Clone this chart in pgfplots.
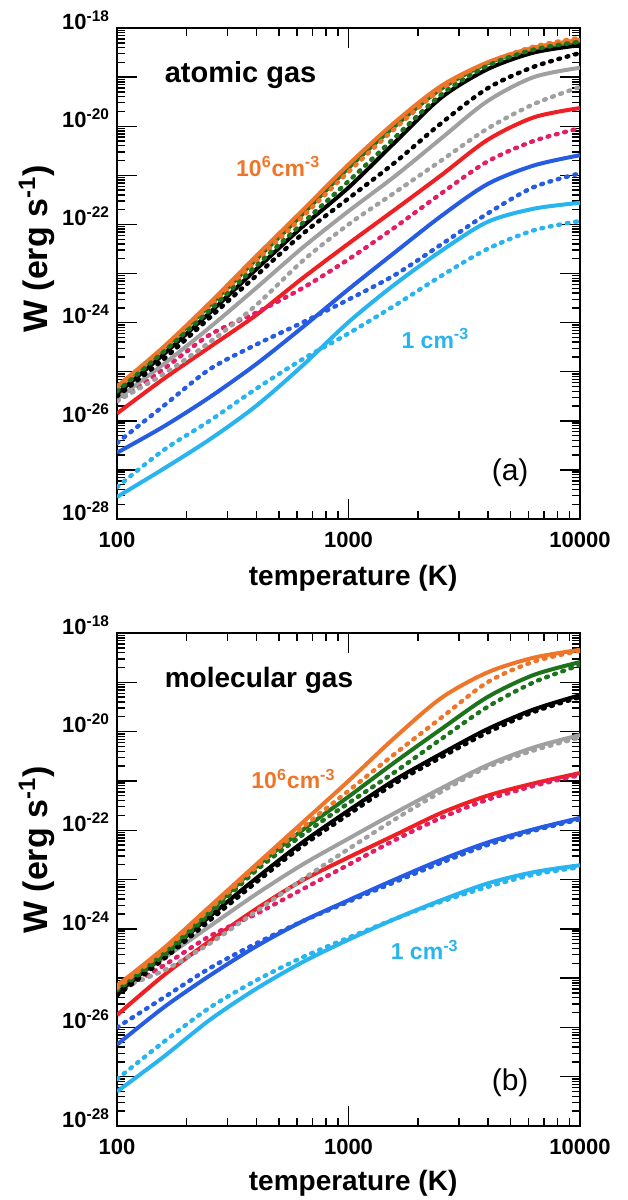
\documentclass[border=0pt]{standalone}
\usepackage{fontspec}
\setmainfont{Liberation Sans}
\usepackage{pgfplots}
\usepackage{pgfplotstable}
\pgfplotsset{compat=1.18}

\definecolor{corange}{RGB}{238,118,42}
\definecolor{cgreen}{RGB}{28,115,28}
\definecolor{cgray}{RGB}{160,160,160}
\definecolor{cred}{RGB}{238,32,36}
\definecolor{cpink}{RGB}{228,30,100}
\definecolor{cblue}{RGB}{38,92,226}
\definecolor{ccyan}{RGB}{40,180,238}

% log10 of W; columns: o=10^6, g=10^5, k=10^4, a=10^3, r=10^2, b=10, c=1 cm^-3; s=solid, d=dotted
\pgfplotstableread{
T     os     od     gs     gd     ks     kd     as     ad     rs     rd     bs     bd     cs     cd
100   -25.30 -25.35 -25.32 -25.40 -25.45 -25.50 -25.55 -25.60 -25.85 -25.60 -26.65 -26.45 -27.55 -27.35
158.5 -24.50 -24.55 -24.53 -24.60 -24.65 -24.75 -24.85 -25.05 -25.15 -24.95 -26.12 -25.70 -26.98 -26.60
251.2 -23.60 -23.68 -23.65 -23.75 -23.80 -23.90 -24.10 -24.40 -24.50 -24.25 -25.52 -24.95 -26.38 -26.00
398.1 -22.65 -22.75 -22.72 -22.85 -22.92 -23.05 -23.30 -23.65 -23.85 -23.80 -24.85 -24.45 -25.70 -25.35
631   -21.72 -21.85 -21.80 -21.98 -22.05 -22.20 -22.48 -22.75 -23.10 -23.30 -24.10 -24.00 -24.88 -24.75
1000  -20.78 -20.93 -20.85 -21.12 -21.25 -21.47 -21.73 -22.00 -22.39 -22.71 -23.32 -23.53 -23.99 -24.22
1585  -19.92 -20.05 -20.00 -20.23 -20.33 -20.74 -21.02 -21.35 -21.70 -22.06 -22.57 -23.03 -23.22 -23.65
2512  -19.18 -19.25 -19.24 -19.36 -19.42 -19.94 -20.25 -20.70 -21.00 -21.37 -21.83 -22.41 -22.54 -23.05
3981  -18.70 -18.72 -18.72 -18.77 -18.84 -19.23 -19.49 -20.05 -20.28 -20.72 -21.18 -21.78 -21.95 -22.50
6310  -18.40 -18.38 -18.42 -18.44 -18.50 -18.79 -19.00 -19.55 -19.82 -20.30 -20.80 -21.24 -21.68 -22.12
10000 -18.24 -18.20 -18.27 -18.28 -18.35 -18.51 -18.81 -19.20 -19.63 -20.04 -20.59 -20.96 -21.56 -21.93
}\tabA

\pgfplotstableread{
T     os     od     gs     gd     ks     kd     as     ad     rs     rd     bs     bd     cs     cd
100   -25.15 -25.20 -25.20 -25.25 -25.30 -25.35 -25.20 -25.22 -25.75 -25.30 -26.35 -26.00 -27.30 -27.05
158.5 -24.40 -24.45 -24.50 -24.55 -24.55 -24.62 -24.60 -24.85 -24.95 -24.75 -25.60 -25.40 -26.60 -26.30
251.2 -23.55 -23.60 -23.65 -23.70 -23.75 -23.83 -23.95 -24.30 -24.25 -24.15 -24.95 -24.80 -25.85 -25.60
398.1 -22.70 -22.75 -22.75 -22.82 -22.98 -23.06 -23.30 -23.65 -23.60 -23.70 -24.36 -24.30 -25.22 -25.05
631   -21.85 -21.95 -22.00 -22.10 -22.25 -22.32 -22.70 -23.00 -23.02 -23.20 -23.85 -23.85 -24.68 -24.58
1000  -21.00 -21.20 -21.32 -21.45 -21.60 -21.68 -22.17 -22.38 -22.55 -22.70 -23.42 -23.45 -24.22 -24.18
1585  -20.12 -20.45 -20.62 -20.82 -20.98 -21.05 -21.65 -21.78 -22.10 -22.20 -23.00 -23.05 -23.80 -23.80
2512  -19.32 -19.72 -19.95 -20.15 -20.45 -20.52 -21.15 -21.22 -21.65 -21.75 -22.60 -22.66 -23.42 -23.45
3981  -18.80 -19.00 -19.30 -19.50 -19.95 -20.02 -20.68 -20.72 -21.30 -21.38 -22.25 -22.30 -23.08 -23.15
6310  -18.50 -18.58 -18.85 -19.00 -19.55 -19.60 -20.32 -20.38 -21.05 -21.10 -21.98 -22.01 -22.85 -22.90
10000 -18.34 -18.36 -18.59 -18.65 -19.26 -19.30 -20.07 -20.12 -20.84 -20.88 -21.75 -21.78 -22.71 -22.75
}\tabB

\tikzset{
  mysl/.style={line width=2pt, smooth, tension=0.5},
  mydl/.style={line width=2.2pt, line cap=round, dash pattern=on 0.9pt off 3.4pt, smooth, tension=0.5},
}

\begin{document}
\begin{tikzpicture}
\useasboundingbox (0,0) rectangle (313.5pt,-600pt);

% (a) atomic gas
\begin{axis}[
    at={(58.5pt,-14pt)}, anchor=north west,
    scale only axis, width=231.5pt, height=245.5pt,
    xmode=log, ymode=log,
    xmin=100, xmax=10000, ymin=1e-28, ymax=1e-18,
    xtick={100,1000,10000}, xticklabels={100,1000,10000},
    minor xtick={200,300,400,500,600,700,800,900,2000,3000,4000,5000,6000,7000,8000,9000},
    ytick={1e-28,1e-27,1e-26,1e-25,1e-24,1e-23,1e-22,1e-21,1e-20,1e-19,1e-18},
    yticklabels={10\textsuperscript{-28},{},10\textsuperscript{-26},{},10\textsuperscript{-24},{},
                 10\textsuperscript{-22},{},10\textsuperscript{-20},{},10\textsuperscript{-18}},
    minor ytick={2e-28,3e-28,4e-28,5e-28,6e-28,7e-28,8e-28,9e-28,
                 2e-27,3e-27,4e-27,5e-27,6e-27,7e-27,8e-27,9e-27,
                 2e-26,3e-26,4e-26,5e-26,6e-26,7e-26,8e-26,9e-26,
                 2e-25,3e-25,4e-25,5e-25,6e-25,7e-25,8e-25,9e-25,
                 2e-24,3e-24,4e-24,5e-24,6e-24,7e-24,8e-24,9e-24,
                 2e-23,3e-23,4e-23,5e-23,6e-23,7e-23,8e-23,9e-23,
                 2e-22,3e-22,4e-22,5e-22,6e-22,7e-22,8e-22,9e-22,
                 2e-21,3e-21,4e-21,5e-21,6e-21,7e-21,8e-21,9e-21,
                 2e-20,3e-20,4e-20,5e-20,6e-20,7e-20,8e-20,9e-20,
                 2e-19,3e-19,4e-19,5e-19,6e-19,7e-19,8e-19,9e-19},
    tick pos=both, tick align=inside,
    major tick length=10pt, minor tick length=4pt,
    tick style={black, line width=0.7pt},
    axis line style={line width=0.9pt},
    ticklabel style={font=\bfseries\fontsize{11}{13}\selectfont},
    yticklabel style={yshift=4pt},
    xticklabel style={yshift=-3pt},
    xlabel={temperature (K)},
    ylabel={W (erg s\textsuperscript{-1})},
    xlabel style={font=\bfseries\fontsize{14}{16}\selectfont, at={(axis description cs:0.51,-0.12)}, anchor=center},
    ylabel style={font=\bfseries\fontsize{17}{19}\selectfont, at={(axis description cs:-0.173,0.55)}, anchor=center},
]
\addplot[mysl, ccyan] table[x=T, y expr=10^(\thisrow{cs})] {\tabA};
\addplot[mydl, ccyan] table[x=T, y expr=10^(\thisrow{cd})] {\tabA};
\addplot[mysl, cblue] table[x=T, y expr=10^(\thisrow{bs})] {\tabA};
\addplot[mydl, cblue] table[x=T, y expr=10^(\thisrow{bd})] {\tabA};
\addplot[mysl, cred] table[x=T, y expr=10^(\thisrow{rs})] {\tabA};
\addplot[mydl, cpink] table[x=T, y expr=10^(\thisrow{rd})] {\tabA};
\addplot[mysl, cgray] table[x=T, y expr=10^(\thisrow{as})] {\tabA};
\addplot[mydl, cgray] table[x=T, y expr=10^(\thisrow{ad})] {\tabA};
\addplot[mysl, black] table[x=T, y expr=10^(\thisrow{ks})] {\tabA};
\addplot[mydl, black] table[x=T, y expr=10^(\thisrow{kd})] {\tabA};
\addplot[mysl, cgreen] table[x=T, y expr=10^(\thisrow{gs})] {\tabA};
\addplot[mysl, corange] table[x=T, y expr=10^(\thisrow{os})] {\tabA};
\addplot[mydl, corange] table[x=T, y expr=10^(\thisrow{od})] {\tabA};
\addplot[mydl, cgreen] table[x=T, y expr=10^(\thisrow{gd})] {\tabA};
\node[anchor=west, font=\bfseries\fontsize{14.5}{16}\selectfont] at (axis cs:150,1.1e-19) {atomic gas};
\node[anchor=west, text=corange, font=\bfseries\fontsize{11.5}{14}\selectfont] at (axis cs:305,1.5e-21) {10\textsuperscript{6}cm\textsuperscript{-3}};
\node[anchor=west, text=ccyan, font=\bfseries\fontsize{11.5}{14}\selectfont] at (axis cs:1580,4.7e-25) {1 cm\textsuperscript{-3}};
\node[anchor=center, font=\fontsize{15}{17}\selectfont] at (axis cs:4990,8.7e-28) {(a)};
\end{axis}

% (b) molecular gas
\begin{axis}[
    at={(58.5pt,-316.5pt)}, anchor=north west,
    scale only axis, width=231.5pt, height=246.5pt,
    xmode=log, ymode=log,
    xmin=100, xmax=10000, ymin=1e-28, ymax=1e-18,
    xtick={100,1000,10000}, xticklabels={100,1000,10000},
    minor xtick={200,300,400,500,600,700,800,900,2000,3000,4000,5000,6000,7000,8000,9000},
    ytick={1e-28,1e-27,1e-26,1e-25,1e-24,1e-23,1e-22,1e-21,1e-20,1e-19,1e-18},
    yticklabels={10\textsuperscript{-28},{},10\textsuperscript{-26},{},10\textsuperscript{-24},{},
                 10\textsuperscript{-22},{},10\textsuperscript{-20},{},10\textsuperscript{-18}},
    minor ytick={2e-28,3e-28,4e-28,5e-28,6e-28,7e-28,8e-28,9e-28,
                 2e-27,3e-27,4e-27,5e-27,6e-27,7e-27,8e-27,9e-27,
                 2e-26,3e-26,4e-26,5e-26,6e-26,7e-26,8e-26,9e-26,
                 2e-25,3e-25,4e-25,5e-25,6e-25,7e-25,8e-25,9e-25,
                 2e-24,3e-24,4e-24,5e-24,6e-24,7e-24,8e-24,9e-24,
                 2e-23,3e-23,4e-23,5e-23,6e-23,7e-23,8e-23,9e-23,
                 2e-22,3e-22,4e-22,5e-22,6e-22,7e-22,8e-22,9e-22,
                 2e-21,3e-21,4e-21,5e-21,6e-21,7e-21,8e-21,9e-21,
                 2e-20,3e-20,4e-20,5e-20,6e-20,7e-20,8e-20,9e-20,
                 2e-19,3e-19,4e-19,5e-19,6e-19,7e-19,8e-19,9e-19},
    tick pos=both, tick align=inside,
    major tick length=10pt, minor tick length=4pt,
    tick style={black, line width=0.7pt},
    axis line style={line width=0.9pt},
    ticklabel style={font=\bfseries\fontsize{11}{13}\selectfont},
    yticklabel style={yshift=4pt},
    xticklabel style={yshift=-3pt},
    xlabel={temperature (K)},
    ylabel={W (erg s\textsuperscript{-1})},
    xlabel style={font=\bfseries\fontsize{14}{16}\selectfont, at={(axis description cs:0.51,-0.117)}, anchor=center},
    ylabel style={font=\bfseries\fontsize{17}{19}\selectfont, at={(axis description cs:-0.173,0.56)}, anchor=center},
]
\addplot[mysl, ccyan] table[x=T, y expr=10^(\thisrow{cs})] {\tabB};
\addplot[mydl, ccyan] table[x=T, y expr=10^(\thisrow{cd})] {\tabB};
\addplot[mysl, cblue] table[x=T, y expr=10^(\thisrow{bs})] {\tabB};
\addplot[mydl, cblue] table[x=T, y expr=10^(\thisrow{bd})] {\tabB};
\addplot[mysl, cred] table[x=T, y expr=10^(\thisrow{rs})] {\tabB};
\addplot[mydl, cpink] table[x=T, y expr=10^(\thisrow{rd})] {\tabB};
\addplot[mysl, cgray] table[x=T, y expr=10^(\thisrow{as})] {\tabB};
\addplot[mydl, cgray] table[x=T, y expr=10^(\thisrow{ad})] {\tabB};
\addplot[mysl, black] table[x=T, y expr=10^(\thisrow{ks})] {\tabB};
\addplot[mydl, black] table[x=T, y expr=10^(\thisrow{kd})] {\tabB};
\addplot[mysl, cgreen] table[x=T, y expr=10^(\thisrow{gs})] {\tabB};
\addplot[mydl, cgreen] table[x=T, y expr=10^(\thisrow{gd})] {\tabB};
\addplot[mysl, corange] table[x=T, y expr=10^(\thisrow{os})] {\tabB};
\addplot[mydl, corange] table[x=T, y expr=10^(\thisrow{od})] {\tabB};
\node[anchor=west, font=\bfseries\fontsize{14}{16}\selectfont] at (axis cs:150,1.1e-19) {molecular gas};
\node[anchor=west, text=corange, font=\bfseries\fontsize{11.5}{14}\selectfont] at (axis cs:355,1.1e-21) {10\textsuperscript{6}cm\textsuperscript{-3}};
\node[anchor=west, text=ccyan, font=\bfseries\fontsize{11.5}{14}\selectfont] at (axis cs:1420,3.7e-25) {1 cm\textsuperscript{-3}};
\node[anchor=center, font=\fontsize{15}{17}\selectfont] at (axis cs:4990,7.4e-28) {(b)};
\end{axis}
\end{tikzpicture}
\end{document}
